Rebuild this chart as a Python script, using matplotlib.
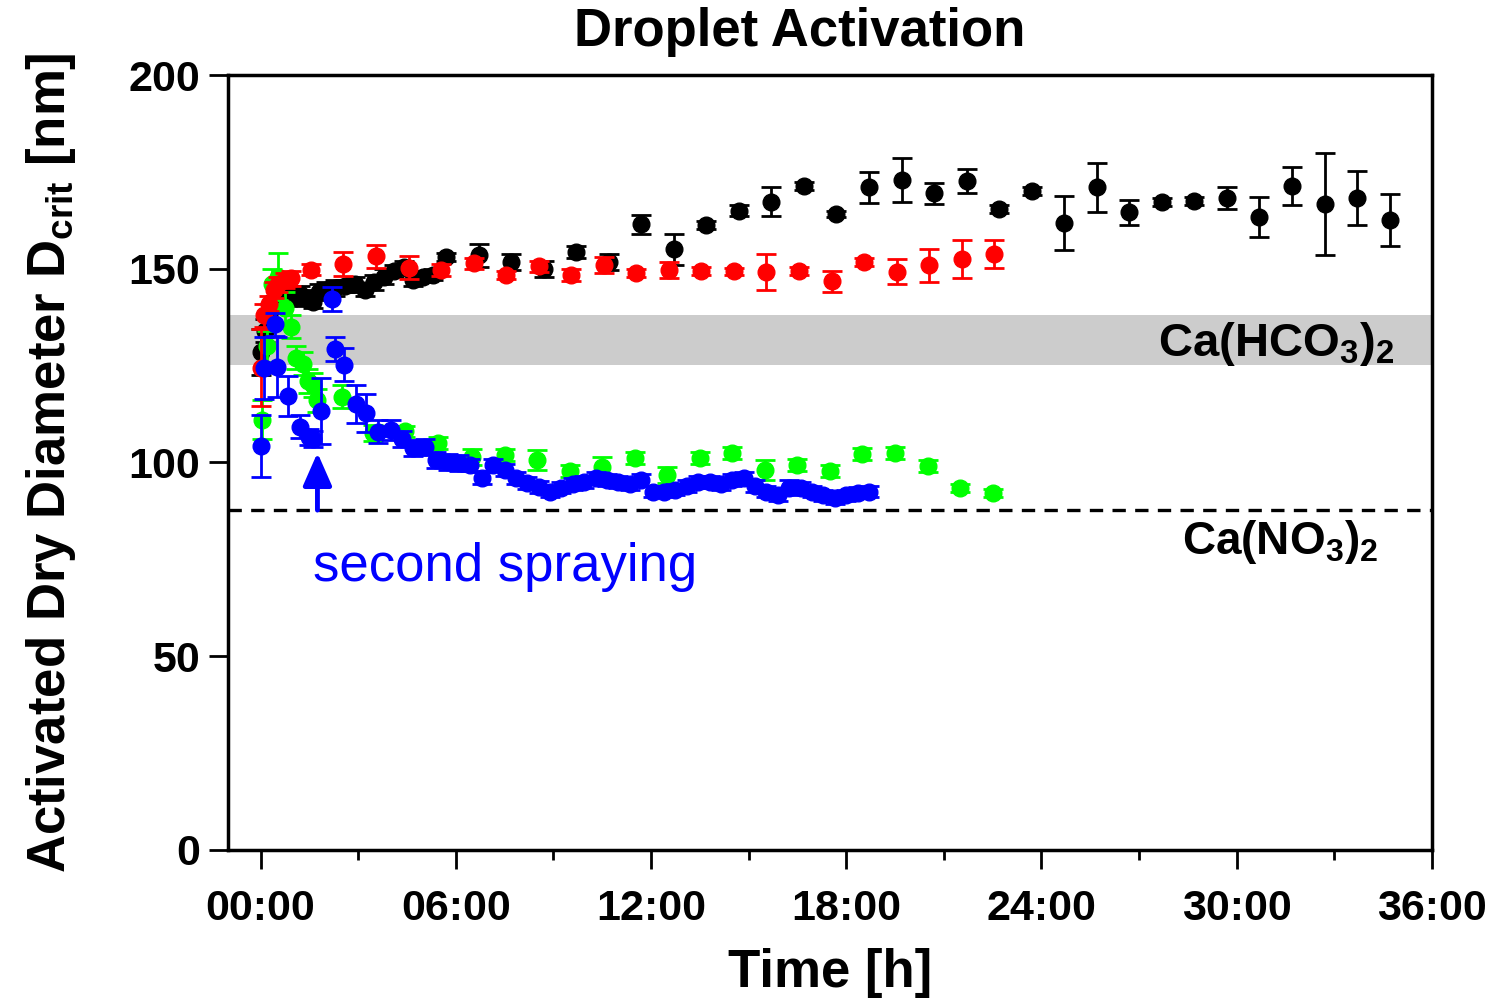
import matplotlib
matplotlib.use("Agg")
import matplotlib.pyplot as plt
from matplotlib.ticker import FuncFormatter, MultipleLocator

plt.rcParams['font.family'] = ['Liberation Sans', 'DejaVu Sans']
plt.rcParams['mathtext.fontset'] = 'custom'
plt.rcParams['mathtext.rm'] = 'Liberation Sans'
plt.rcParams['mathtext.bf'] = 'Liberation Sans:bold'
plt.rcParams['mathtext.it'] = 'Liberation Sans:italic'

# ---- data (time in hours, activated dry diameter in nm) ----
black_t = [0.0, 0.15, 0.3, 0.45, 0.6, 0.8, 1.0, 1.2, 1.4, 1.6, 1.8, 2.0, 2.3, 2.6, 2.9, 3.2, 3.5, 3.8,
           4.1, 4.4, 4.7, 5.0, 5.3,
           5.7, 6.7, 7.7, 8.7, 9.7, 10.7, 11.7, 12.7, 13.7, 14.7, 15.7, 16.7, 17.7, 18.7, 19.7, 20.7,
           21.7, 22.7, 23.7, 24.7, 25.7, 26.7, 27.7, 28.7, 29.7, 30.7, 31.7, 32.7, 33.7, 34.7]
black_v = [128.5, 134, 139, 141, 142, 142.5, 143, 143.5, 142.5, 141.5, 144, 144.5, 145, 145.5, 146, 144.5, 146.5, 148,
           149.5, 150.5, 147, 148, 148.5,
           153, 153.5, 151.7, 150, 154.3, 151.7, 161.5, 155, 161.3, 165, 167.3, 171.4, 164.1, 171, 173, 169.5,
           172.6, 165.4, 170, 161.8, 171, 164.6, 167.2, 167.5, 168.3, 163.4, 171.4, 166.7, 168.3, 162.6]
black_e = [6, 3, 2, 2, 2, 2, 2, 2, 2, 1.5, 2, 2, 2, 1.5, 2, 1.5, 2, 2,
           1.5, 1.5, 1.5, 1.5, 1.5,
           1, 3, 2, 2, 1.5, 2, 2.5, 4, 1, 1.5, 3.7, 1, 0.8, 4, 5.7, 2.7,
           3.1, 1, 1, 7, 6.3, 3.2, 1, 1, 2.8, 5.2, 4.9, 13.2, 7, 6.8]

red_t = [0.0, 0.1, 0.25, 0.4, 0.55, 0.75, 0.95, 1.55, 2.55, 3.55, 4.55, 5.55, 6.55, 7.55, 8.55, 9.55,
         10.55, 11.55, 12.55, 13.55, 14.55, 15.55, 16.55, 17.55, 18.55, 19.55, 20.55, 21.55, 22.55]
red_v = [124.5, 138, 141, 144.5, 146, 147, 147.5, 149.8, 151.2, 153.2, 150.3, 149.7, 151.4, 148.4, 150.6, 148.4,
         151, 148.9, 149.7, 149.4, 149.3, 149.2, 149.4, 146.8, 151.7, 149.2, 150.9, 152.5, 153.8]
red_e = [10, 3, 2, 2, 2, 2, 2, 1.5, 3, 3, 3, 1.5, 1.5, 1, 1.5, 1.5,
         2, 1, 2, 1, 1, 4.6, 1, 2.7, 1, 3.2, 4.3, 5, 3.7]

green_t = [0.05, 0.2, 0.35, 0.55, 0.75, 0.95, 1.1, 1.3, 1.45, 1.6, 1.75, 2.5, 3.45, 4.45, 5.47,
           6.5, 7.5, 8.5, 9.5, 10.5, 11.5, 12.5, 13.5, 14.5, 15.5, 16.5, 17.5, 18.5, 19.5, 20.5, 21.5, 22.5]
green_v = [111, 130, 146, 148, 140, 135, 127, 125.5, 121, 120, 116, 117, 107.6, 108, 105,
           101.4, 101.9, 100.6, 97.8, 98.8, 101.2, 96.8, 101.2, 102.4, 98.1, 99.4, 97.8, 102.2, 102.4, 99.1, 93.4, 92.1]
green_e = [5, 4, 4, 6, 4, 3, 3, 3, 3, 3, 3, 3, 2, 1.5, 1.5,
           2, 1.5, 2.5, 1.5, 2.5, 1.5, 2, 1.5, 1.5, 2.5, 1.5, 1.5, 1.5, 1.5, 1.5, 1, 1]

blue_t = [0.0, 0.1, 0.45, 0.5, 0.83, 1.2, 1.5, 1.6, 1.87, 2.2, 2.3, 2.58, 2.95, 3.25, 3.6, 4.0, 4.35,
          4.7, 5.05, 5.4, 5.75, 6.1, 6.45, 6.8, 7.15, 7.5, 7.85, 8.2, 8.55,
          8.9, 9.25, 9.6, 9.95, 10.3, 10.65, 11.0, 11.35, 11.7, 12.05, 12.4, 12.75, 13.1, 13.45, 13.8,
          14.15, 14.5, 14.85, 15.2, 15.55, 15.9, 16.25, 16.6, 16.95, 17.3, 17.65, 18.0, 18.35, 18.7]
blue_v = [104.3, 124.4, 135.7, 124.6, 117.2, 109.2, 106.6, 106, 113.3, 142.2, 129.3, 125.2, 115.1, 112.8, 107.9, 108.4, 106,
          103.7, 104, 100.6, 100.1, 99.9, 99.4, 96, 99.4, 98, 96, 94.7, 93.7,
          92.5, 93.5, 94.5, 95, 96, 95.5, 95, 94.5, 95.5, 92.5, 92.5, 93, 94, 95, 95,
          94.5, 95.5, 96, 94, 92.5, 91.5, 93.5, 93.5, 92.5, 91.5, 90.8, 91.5, 92.2, 92.5]
blue_e = [8, 8, 3, 7.7, 5.2, 3, 2, 2, 8.6, 3, 3, 4.3, 4.9, 4.9, 3, 2.5, 2,
          2, 2, 2, 2, 2, 1.5, 1.5, 1.5, 1.5, 1.5, 1.5, 1.5,
          1.5, 1.5, 1.5, 1.5, 1.5, 1.5, 1.5, 1.5, 1.5, 1.5, 1.5, 1.5, 1.5, 1.5, 1.5,
          1.5, 1.5, 1.5, 1.5, 1.5, 1.5, 2, 1.5, 1.5, 1.5, 1.5, 1.5, 1.5, 1.5]

band_lo, band_hi = 125.2, 138.0      # Ca(HCO3)2 range
no3_level = 87.7                     # Ca(NO3)2 level
arrow_t, arrow_y0, arrow_y1 = 1.75, 87.7, 102.5
x_ticks = [0, 6, 12, 18, 24, 30, 36]
y_ticks = [0, 50, 100, 150, 200]

# ---- figure ----
fig = plt.figure(figsize=(14.9, 10.01), dpi=100)
ax = fig.add_axes([0.153, 0.151, 0.808, 0.774])

ax.axhspan(band_lo, band_hi, color='#cccccc', lw=0, zorder=0)
ax.axhline(no3_level, color='black', ls=(0, (4, 2.8)), lw=2.4, zorder=1)

series = [(black_t, black_v, black_e, 'black'),
          (green_t, green_v, green_e, '#00ff00'),
          (red_t, red_v, red_e, '#ff0000'),
          (blue_t, blue_v, blue_e, '#0000ff')]
for i, (t, v, e, c) in enumerate(series):
    ax.errorbar(t, v, yerr=e, fmt='o', color=c, ms=12, elinewidth=2, capsize=7, capthick=2,
                zorder=2 + i)

ax.annotate('', xy=(arrow_t, arrow_y1), xytext=(arrow_t, arrow_y0),
            arrowprops=dict(arrowstyle='-|>,head_length=0.5,head_width=0.22', color='#0000ff', lw=3.5,
                            mutation_scale=40, shrinkA=0, shrinkB=0), zorder=10)
ax.text(1.6, 73, 'second spraying', color='#0000ff', fontsize=38, ha='left', va='center')

ax.text(34.85, 130.5, r'Ca(HCO$_\mathbf{3}$)$_\mathbf{2}$', fontsize=34, fontweight='bold',
        ha='right', va='center')
ax.text(34.35, 79.5, r'Ca(NO$_\mathbf{3}$)$_\mathbf{2}$', fontsize=33, fontweight='bold',
        ha='right', va='center')

ax.set_xlim(-1, 36)
ax.set_ylim(0, 200)
ax.set_xticks(x_ticks)
ax.xaxis.set_minor_locator(MultipleLocator(3))
ax.xaxis.set_major_formatter(FuncFormatter(lambda x, p: f"{int(x):02d}:00"))
ax.set_yticks(y_ticks)

ax.tick_params(axis='both', which='major', direction='out', length=14, width=2, labelsize=31, pad=6)
ax.tick_params(axis='x', which='major', pad=14)
ax.tick_params(axis='x', which='minor', direction='out', length=7, width=2)
for lab in ax.get_xticklabels() + ax.get_yticklabels():
    lab.set_fontweight('bold')
for s in ax.spines.values():
    s.set_linewidth(2.5)

ax.set_xlabel('Time [h]', fontsize=38, fontweight='bold', labelpad=14)
ax.set_ylabel(r'Activated Dry Diameter D$_\mathbf{crit}$ [nm]', fontsize=38, fontweight='bold', labelpad=36)
fig.text(0.537, 0.968, 'Droplet Activation', fontsize=38, fontweight='bold', ha='center', va='center')

fig.savefig('out.png', dpi=100)
